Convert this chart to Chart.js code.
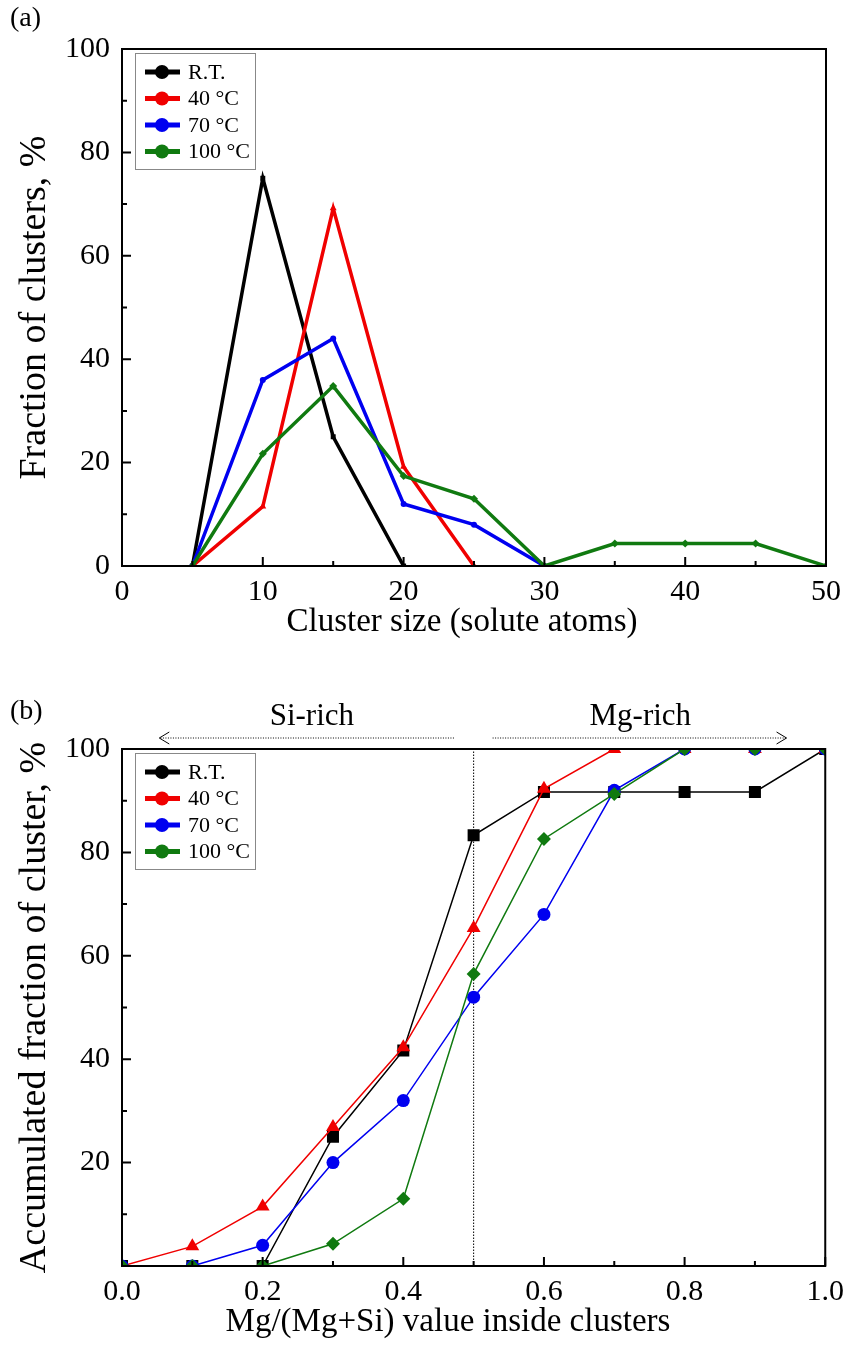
<!DOCTYPE html>
<html lang="en">
<head>
<meta charset="UTF-8">
<title>Cluster size and Mg/(Mg+Si) distributions</title>
<style>
  body{margin:0;background:#fff;}
  canvas{display:block;}
</style>
</head>
<body>
<canvas id="chartA" width="852" height="650"></canvas>
<canvas id="chartB" width="852" height="708"></canvas>
<script src="https://cdn.jsdelivr.net/npm/chart.js"></script>
<script>
const seriesNames = ['R.T.', '40 °C', '70 °C', '100 °C']
const seriesColors = ['#000000', '#f00000', '#0000f0', '#107a10']

// (a) cluster size distribution
const clusterSize = [5, 10, 15, 20, 25, 30, 35, 40, 45, 50]
const fracRT  = [0, 75, 25, 0, null, null, null, null, null, null]
const frac40  = [0, 11.5, 69.2, 19.2, 0, null, null, null, null, null]
const frac70  = [0, 36, 44, 12, 8, 0, null, null, null, null]
const frac100 = [0, 21.7, 34.8, 17.4, 13, 0, 4.35, 4.35, 4.35, 0]

// (b) accumulated fraction vs Mg/(Mg+Si)
const mgRatio = [0, 0.1, 0.2, 0.3, 0.4, 0.5, 0.6, 0.7, 0.8, 0.9, 1.0]
const accRT   = [0, 0, 0, 25, 41.7, 83.3, 91.7, 91.7, 91.7, 91.7, 100]
const acc40   = [0, 3.8, 11.5, 26.9, 42.3, 65.4, 92.3, 100, 100, 100, 100]
const acc70   = [0, 0, 4, 20, 32, 52, 68, 92, 100, 100, 100]
const acc100  = [0, 0, 0, 4.3, 13, 56.5, 82.6, 91.3, 100, 100, 100]

const serif = "'Liberation Serif', 'Times New Roman', serif"

function pts(xs, ys) {
  const out = []
  xs.forEach((x, i) => { if (ys[i] !== null) out.push({x: x, y: ys[i]}) })
  return out
}

// frame, inward ticks, legend box, panel letter, x title, arrows
const decor = {
  id: 'decor',
  afterDraw(chart, args, o) {
    const {ctx, chartArea: a, scales: {x, y}} = chart
    ctx.save()
    ctx.strokeStyle = '#000'
    ctx.lineWidth = 2
    ctx.strokeRect(a.left, a.top, a.right - a.left, a.bottom - a.top)
    ctx.beginPath()
    const nx = Math.round((x.max - x.min) / o.xMinor)
    for (let i = 0; i <= nx; i++) {
      const px = x.getPixelForValue(x.min + i * o.xMinor)
      const len = i % 2 === 0 ? 9 : 5
      ctx.moveTo(px, a.bottom); ctx.lineTo(px, a.bottom - len)
    }
    const ny = Math.round((y.max - y.min) / o.yMinor)
    for (let i = 0; i <= ny; i++) {
      const py = y.getPixelForValue(y.min + i * o.yMinor)
      const len = i % 2 === 0 ? 9 : 5
      ctx.moveTo(a.left, py); ctx.lineTo(a.left + len, py)
    }
    ctx.stroke()

    // legend
    const bx = a.left + 13, by = a.top + 4
    ctx.lineWidth = 1
    ctx.strokeStyle = '#888'
    ctx.fillStyle = '#fff'
    ctx.fillRect(bx, by, 120, 116)
    ctx.strokeRect(bx + 0.5, by + 0.5, 120, 116)
    ctx.font = '22px ' + serif
    ctx.textBaseline = 'middle'
    seriesNames.forEach((name, i) => {
      const ly = by + 19 + i * 26.5
      ctx.strokeStyle = seriesColors[i]
      ctx.fillStyle = seriesColors[i]
      ctx.lineWidth = 5
      ctx.beginPath(); ctx.moveTo(bx + 10, ly); ctx.lineTo(bx + 45, ly); ctx.stroke()
      ctx.beginPath(); ctx.arc(bx + 27, ly, 7, 0, Math.PI * 2); ctx.fill()
      ctx.fillStyle = '#000'
      ctx.fillText(name, bx + 53, ly + 1)
    })

    // panel letter
    ctx.font = '28px ' + serif
    ctx.fillStyle = '#000'
    ctx.textAlign = 'left'
    ctx.fillText(o.letter, 10, o.letterY)

    // x axis title (centred a bit left of the plot centre, as in the figure)
    ctx.font = '33px ' + serif
    ctx.textAlign = 'center'
    ctx.fillText(o.xTitle, o.xTitleX, a.bottom + 56)

    // Si-rich / Mg-rich arrows
    if (o.arrows) {
      const ay = a.top - 11
      ctx.strokeStyle = '#000'
      ctx.lineWidth = 1
      ctx.setLineDash([1, 1.5])
      o.arrows.forEach(ar => {
        const x0 = x.getPixelForValue(ar.from), x1 = x.getPixelForValue(ar.to)
        ctx.beginPath(); ctx.moveTo(x0, ay); ctx.lineTo(x1, ay); ctx.stroke()
      })
      ctx.setLineDash([])
      o.arrows.forEach(ar => {
        const x1 = x.getPixelForValue(ar.to)
        const d = ar.to > ar.from ? -1 : 1
        ctx.beginPath()
        ctx.moveTo(x1 + d * 10, ay - 6); ctx.lineTo(x1, ay); ctx.lineTo(x1 + d * 10, ay + 6)
        ctx.stroke()
        ctx.font = '31px ' + serif
        ctx.textAlign = 'center'
        ctx.fillText(ar.label, x.getPixelForValue(ar.textAt), ay - 21)
      })
    }
    ctx.restore()
  }
}

function lineSet(i, data, style, radius, width, order) {
  return {
    label: seriesNames[i],
    data: data,
    borderColor: seriesColors[i],
    backgroundColor: seriesColors[i],
    borderWidth: width,
    pointStyle: style,
    pointRadius: radius,
    pointBorderWidth: 0,
    pointHoverRadius: radius,
    order: order
  }
}

const tickFont = {family: serif, size: 30}

function axes(xh, xExtra, yExtra, yTitle) {
  return {
    x: Object.assign({
      type: 'linear',
      grid: {display: false, drawTicks: false},
      border: {display: false},
      afterFit: s => { s.height = xh }
    }, xExtra),
    y: Object.assign({
      type: 'linear',
      min: 0,
      max: 100,
      grid: {display: false, drawTicks: false},
      border: {display: false},
      title: {display: true, text: yTitle, color: '#000', font: {family: serif, size: 38}, padding: {top: 12}},
      afterFit: s => { s.width = 122 }
    }, yExtra)
  }
}

const baseOpts = {
  responsive: false,
  animation: false,
  elements: {line: {tension: 0}}
}

// chart (a)
const scalesA = axes(84,
  {min: 0, max: 50, ticks: {color: '#000', font: tickFont, padding: 8, stepSize: 10}},
  {ticks: {color: '#000', font: tickFont, padding: 12, stepSize: 20}},
  'Fraction of clusters, %')

new Chart(document.getElementById('chartA'), {
  type: 'line',
  data: {datasets: [
    lineSet(0, pts(clusterSize, fracRT), 'rect', 3.5, 3.5, 4),
    lineSet(1, pts(clusterSize, frac40), 'triangle', 4, 3.5, 3),
    lineSet(2, pts(clusterSize, frac70), 'circle', 3, 3.5, 2),
    lineSet(3, pts(clusterSize, frac100), 'rectRot', 4, 3.5, 1)
  ]},
  options: Object.assign({}, baseOpts, {
    layout: {padding: {top: 49, right: 26, left: 0, bottom: 0}},
    scales: scalesA,
    plugins: {
      legend: {display: false},
      tooltip: {enabled: false},
      decor: {xMinor: 5, yMinor: 10, letter: '(a)', letterY: 19,
        xTitle: 'Cluster size (solute atoms)', xTitleX: 462}
    }
  }),
  plugins: [decor]
})

// chart (b)
const scalesB = axes(92,
  {min: 0, max: 1, ticks: {color: '#000', font: tickFont, padding: 8, stepSize: 0.2,
    callback: v => v.toFixed(1)}},
  {ticks: {color: '#000', font: tickFont, padding: 12, stepSize: 20,
    callback: v => v === 0 ? '' : v}},
  'Accumulated fraction of cluster, %')

new Chart(document.getElementById('chartB'), {
  type: 'line',
  data: {datasets: [
    {
      label: 'divider',
      data: [{x: 0.5, y: 0}, {x: 0.5, y: 100}],
      borderColor: '#000',
      borderWidth: 1,
      borderDash: [1.5, 1.5],
      pointRadius: 0,
      order: 5
    },
    lineSet(0, pts(mgRatio, accRT), 'rect', 8.5, 1.5, 4),
    lineSet(1, pts(mgRatio, acc40), 'triangle', 8, 1.5, 3),
    lineSet(2, pts(mgRatio, acc70), 'circle', 6.5, 1.5, 2),
    lineSet(3, pts(mgRatio, acc100), 'rectRot', 7, 1.5, 1)
  ]},
  options: Object.assign({}, baseOpts, {
    layout: {padding: {top: 99, right: 26, left: 0, bottom: 0}},
    scales: scalesB,
    plugins: {
      legend: {display: false},
      tooltip: {enabled: false},
      decor: {xMinor: 0.1, yMinor: 10, letter: '(b)', letterY: 62,
        xTitle: 'Mg/(Mg+Si) value inside clusters', xTitleX: 448,
        arrows: [
          {from: 0.472, to: 0.053, label: 'Si-rich', textAt: 0.27},
          {from: 0.527, to: 0.945, label: 'Mg-rich', textAt: 0.737}
        ]}
    }
  }),
  plugins: [decor]
})
</script>
</body>
</html>
